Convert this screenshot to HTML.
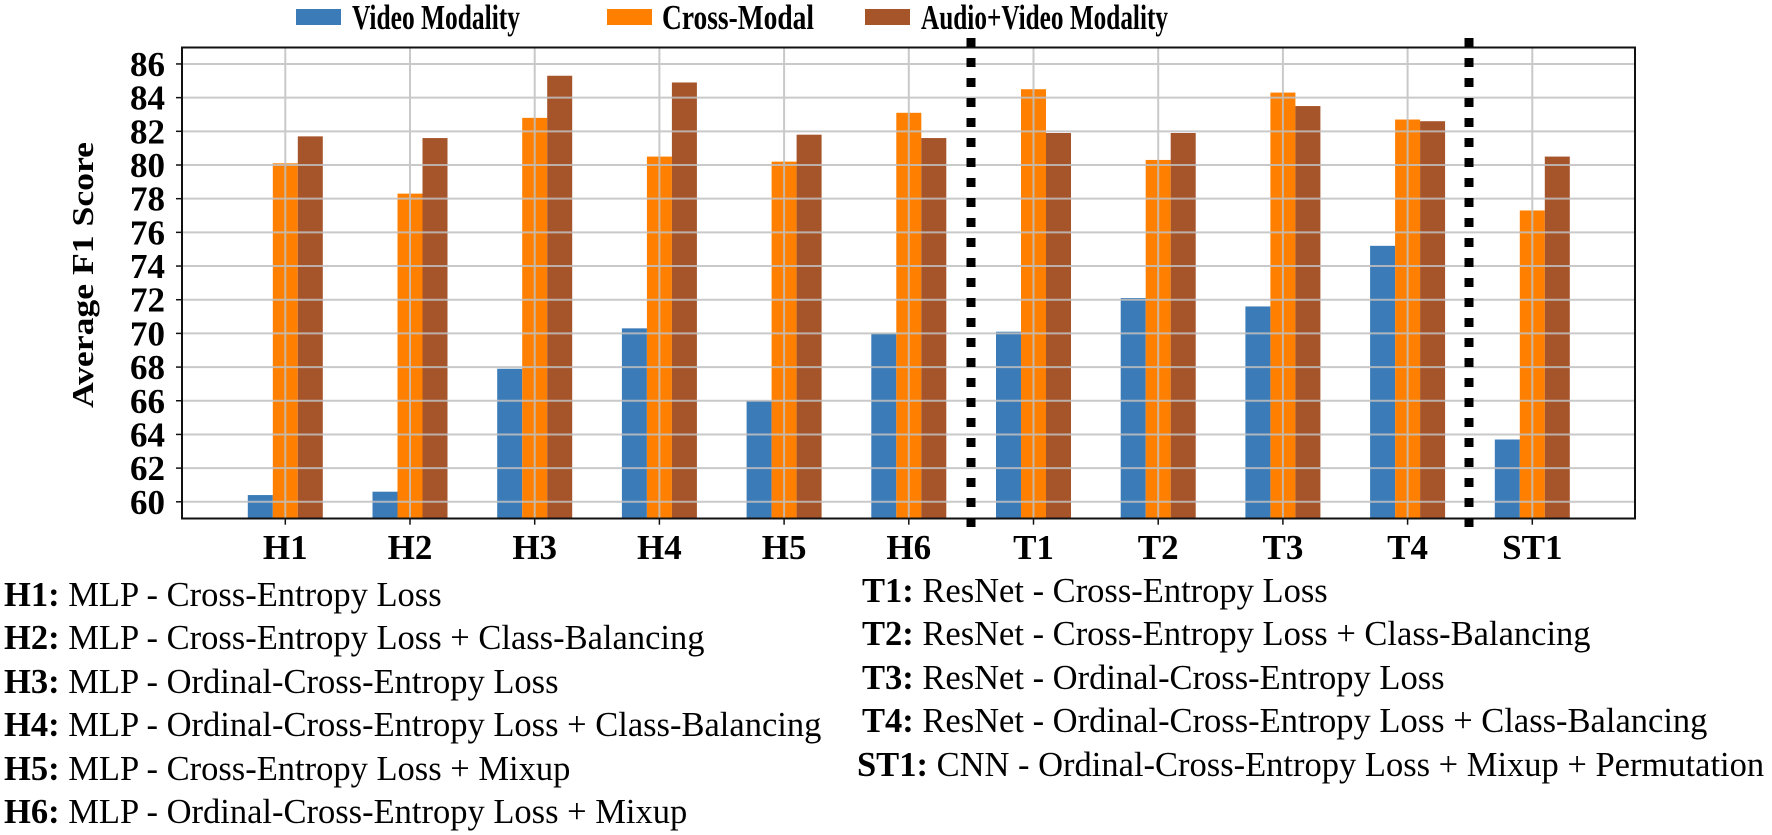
<!DOCTYPE html>
<html><head><meta charset="utf-8"><style>
html,body{margin:0;padding:0;background:#fff;}
svg{display:block;}
</style></head><body>
<svg width="1772" height="835" viewBox="0 0 1772 835" xmlns="http://www.w3.org/2000/svg" font-family="Liberation Serif, serif">
<rect width="1772" height="835" fill="#fff"/>
<!-- legend -->
<g font-size="35" font-weight="bold">
<rect x="296" y="9" width="45" height="16" fill="#3a7bb8"/>
<text x="352" y="29" textLength="168" lengthAdjust="spacingAndGlyphs">Video Modality</text>
<rect x="607" y="9" width="45" height="16" fill="#ff8000"/>
<text x="662" y="29" textLength="152" lengthAdjust="spacingAndGlyphs">Cross-Modal</text>
<rect x="865" y="9" width="45" height="16" fill="#a6542a"/>
<text x="921" y="29" textLength="247" lengthAdjust="spacingAndGlyphs">Audio+Video Modality</text>
</g>
<g id="bars"></g>
<g id="grid" stroke="#c0c0c0" stroke-width="2" opacity="0.85"></g>
<rect x="182" y="47.5" width="1453" height="471" fill="none" stroke="#111" stroke-width="2"/>
<g id="ticks" font-size="35" font-weight="bold"></g>
<line x1="971" y1="38" x2="971" y2="535" stroke="#000" stroke-width="9" stroke-dasharray="9 11"/>
<line x1="1469" y1="38" x2="1469" y2="535" stroke="#000" stroke-width="9" stroke-dasharray="9 11"/>
<text transform="translate(93,275) rotate(-90)" text-anchor="middle" font-size="31" font-weight="bold" textLength="266" lengthAdjust="spacingAndGlyphs">Average F1 Score</text>
<g font-size="34.5">
<text x="4" y="606"><tspan font-weight="bold">H1:</tspan> MLP - Cross-Entropy Loss</text>
<text x="4" y="649"><tspan font-weight="bold">H2:</tspan> MLP - Cross-Entropy Loss + Class-Balancing</text>
<text x="4" y="693"><tspan font-weight="bold">H3:</tspan> MLP - Ordinal-Cross-Entropy Loss</text>
<text x="4" y="736"><tspan font-weight="bold">H4:</tspan> MLP - Ordinal-Cross-Entropy Loss + Class-Balancing</text>
<text x="4" y="780"><tspan font-weight="bold">H5:</tspan> MLP - Cross-Entropy Loss + Mixup</text>
<text x="4" y="823"><tspan font-weight="bold">H6:</tspan> MLP - Ordinal-Cross-Entropy Loss + Mixup</text>
<text x="862" y="602"><tspan font-weight="bold">T1:</tspan> ResNet - Cross-Entropy Loss</text>
<text x="862" y="645"><tspan font-weight="bold">T2:</tspan> ResNet - Cross-Entropy Loss + Class-Balancing</text>
<text x="862" y="689"><tspan font-weight="bold">T3:</tspan> ResNet - Ordinal-Cross-Entropy Loss</text>
<text x="862" y="732"><tspan font-weight="bold">T4:</tspan> ResNet - Ordinal-Cross-Entropy Loss + Class-Balancing</text>
<text x="857" y="776"><tspan font-weight="bold">ST1:</tspan> CNN - Ordinal-Cross-Entropy Loss + Mixup + Permutation</text>
</g>
<script>
var ns="http://www.w3.org/2000/svg";
function el(p,t,a,txt){var e=document.createElementNS(ns,t);for(var k in a)e.setAttribute(k,a[k]);if(txt)e.textContent=txt;document.getElementById(p).appendChild(e);}
function Y(v){return 165-(v-80)*16.84;}
var names=["H1","H2","H3","H4","H5","H6","T1","T2","T3","T4","ST1"];
var d=[[60.4,80.1,81.7],[60.6,78.3,81.6],[67.9,82.8,85.3],[70.3,80.5,84.9],[66.0,80.2,81.8],[70.0,83.1,81.6],[70.1,84.5,81.9],[72.1,80.3,81.9],[71.6,84.3,83.5],[75.2,82.7,82.6],[63.7,77.3,80.5]];
var col=["#3a7bb8","#ff8000","#a6542a"];
var B=518.7;
for(var i=0;i<11;i++){var c=285.3+124.7*i;
 for(var j=0;j<3;j++){var x=c-37.5+25*j,y=Y(d[i][j]);
  el("bars","rect",{x:x,y:y,width:25,height:B-y,fill:col[j]});}
 el("grid","line",{x1:c,y1:47.5,x2:c,y2:B});
 el("ticks","line",{x1:c,y1:B,x2:c,y2:B+6,stroke:"#111","stroke-width":1.5});
 el("ticks","text",{x:c,y:559,"text-anchor":"middle"},names[i]);}
for(var v=60;v<=86;v+=2){var y=Y(v);
 el("grid","line",{x1:182,y1:y,x2:1635,y2:y});
 el("ticks","line",{x1:176,y1:y,x2:182,y2:y,stroke:"#111","stroke-width":1.5});
 el("ticks","text",{x:165,y:y+12,"text-anchor":"end"},String(v));}
</script>
</svg>
</body></html>
